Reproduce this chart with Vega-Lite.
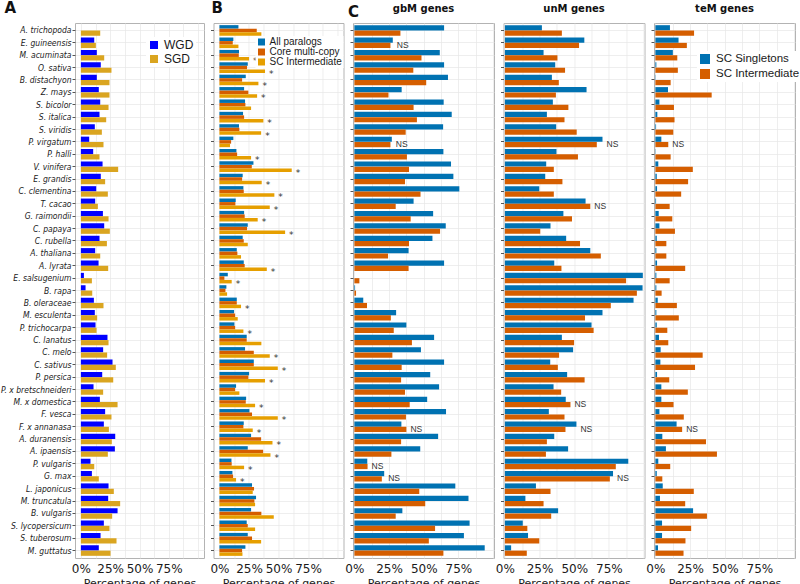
{
"$schema": "https://vega.github.io/schema/vega-lite/v6.json",
"padding": 0,
"autosize": {"type": "pad"},
"background": "white",
"config": {
  "view": {"stroke": "#B3B3B3", "strokeWidth": 1},
  "axis": {"gridColor": "#E6E6E6", "gridWidth": 0.7, "domain": false, "tickColor": "#555555", "labelFont": "DejaVu Sans", "titleFont": "DejaVu Sans", "labelColor": "#1A1A1A", "titleColor": "#1A1A1A"},
  "legend": {"labelFont": "Liberation Sans", "labelColor": "#1A1A1A"},
  "title": {"font": "DejaVu Sans", "fontWeight": "bold", "baseline": "alphabetic", "color": "#111111"}
},
"datasets": {
"a": [
{"s":"A. trichopoda","t":"WGD","v":0},{"s":"A. trichopoda","t":"SGD","v":16.5},
{"s":"E. guineensis","t":"WGD","v":11.4},{"s":"E. guineensis","t":"SGD","v":12.8},
{"s":"M. acuminata","t":"WGD","v":13.6},{"s":"M. acuminata","t":"SGD","v":19.9},
{"s":"O. sativa","t":"WGD","v":17.0},{"s":"O. sativa","t":"SGD","v":26.1},
{"s":"B. distachyon","t":"WGD","v":13.6},{"s":"B. distachyon","t":"SGD","v":24.4},
{"s":"Z. mays","t":"WGD","v":15.3},{"s":"Z. mays","t":"SGD","v":24.4},
{"s":"S. bicolor","t":"WGD","v":16.5},{"s":"S. bicolor","t":"SGD","v":23.6},
{"s":"S. italica","t":"WGD","v":15.9},{"s":"S. italica","t":"SGD","v":21.6},
{"s":"S. viridis","t":"WGD","v":11.9},{"s":"S. viridis","t":"SGD","v":17.9},
{"s":"P. virgatum","t":"WGD","v":7.1},{"s":"P. virgatum","t":"SGD","v":19.3},
{"s":"P. halli","t":"WGD","v":10.5},{"s":"P. halli","t":"SGD","v":15.9},
{"s":"V. vinifera","t":"WGD","v":18.5},{"s":"V. vinifera","t":"SGD","v":31.8},
{"s":"E. grandis","t":"WGD","v":17.0},{"s":"E. grandis","t":"SGD","v":20.7},
{"s":"C. clementina","t":"WGD","v":13.1},{"s":"C. clementina","t":"SGD","v":23.0},
{"s":"T. cacao","t":"WGD","v":12.2},{"s":"T. cacao","t":"SGD","v":14.5},
{"s":"G. raimondii","t":"WGD","v":18.8},{"s":"G. raimondii","t":"SGD","v":23.6},
{"s":"C. papaya","t":"WGD","v":19.9},{"s":"C. papaya","t":"SGD","v":24.7},
{"s":"C. rubella","t":"WGD","v":15.9},{"s":"C. rubella","t":"SGD","v":22.2},
{"s":"A. thaliana","t":"WGD","v":12.2},{"s":"A. thaliana","t":"SGD","v":16.5},
{"s":"A. lyrata","t":"WGD","v":15.1},{"s":"A. lyrata","t":"SGD","v":23.3},
{"s":"E. salsugenium","t":"WGD","v":2.6},{"s":"E. salsugenium","t":"SGD","v":9.4},
{"s":"B. rapa","t":"WGD","v":4.0},{"s":"B. rapa","t":"SGD","v":9.7},
{"s":"B. oleraceae","t":"WGD","v":11.1},{"s":"B. oleraceae","t":"SGD","v":19.3},
{"s":"M. esculenta","t":"WGD","v":11.9},{"s":"M. esculenta","t":"SGD","v":13.9},
{"s":"P. trichocarpa","t":"WGD","v":12.5},{"s":"P. trichocarpa","t":"SGD","v":13.4},
{"s":"C. lanatus","t":"WGD","v":22.7},{"s":"C. lanatus","t":"SGD","v":23.6},
{"s":"C. melo","t":"WGD","v":19.0},{"s":"C. melo","t":"SGD","v":22.4},
{"s":"C. sativus","t":"WGD","v":27.0},{"s":"C. sativus","t":"SGD","v":29.8},
{"s":"P. persica","t":"WGD","v":18.2},{"s":"P. persica","t":"SGD","v":27.6},
{"s":"P. x bretschneideri","t":"WGD","v":10.8},{"s":"P. x bretschneideri","t":"SGD","v":19.0},
{"s":"M. x domestica","t":"WGD","v":16.2},{"s":"M. x domestica","t":"SGD","v":31.3},
{"s":"F. vesca","t":"WGD","v":20.7},{"s":"F. vesca","t":"SGD","v":26.1},
{"s":"F. x annanasa","t":"WGD","v":19.6},{"s":"F. x annanasa","t":"SGD","v":23.9},
{"s":"A. duranensis","t":"WGD","v":29.3},{"s":"A. duranensis","t":"SGD","v":26.4},
{"s":"A. ipaensis","t":"WGD","v":29.0},{"s":"A. ipaensis","t":"SGD","v":23.0},
{"s":"P. vulgaris","t":"WGD","v":8.2},{"s":"P. vulgaris","t":"SGD","v":11.4},
{"s":"G. max","t":"WGD","v":9.4},{"s":"G. max","t":"SGD","v":15.3},
{"s":"L. japonicus","t":"WGD","v":23.6},{"s":"L. japonicus","t":"SGD","v":28.1},
{"s":"M. truncatula","t":"WGD","v":23.3},{"s":"M. truncatula","t":"SGD","v":33.5},
{"s":"B. vulgaris","t":"WGD","v":31.3},{"s":"B. vulgaris","t":"SGD","v":26.7},
{"s":"S. lycopersicum","t":"WGD","v":19.6},{"s":"S. lycopersicum","t":"SGD","v":24.4},
{"s":"S. tuberosum","t":"WGD","v":16.8},{"s":"S. tuberosum","t":"SGD","v":30.4},
{"s":"M. guttatus","t":"WGD","v":15.3},{"s":"M. guttatus","t":"SGD","v":25.3}
],
"b": [
{"s":"A. trichopoda","t":"All paralogs","v":16.1,"n":""},{"s":"A. trichopoda","t":"Core multi-copy","v":31.6,"n":""},{"s":"A. trichopoda","t":"SC Intermediate","v":35.5,"n":""},
{"s":"E. guineensis","t":"All paralogs","v":11.8,"n":""},{"s":"E. guineensis","t":"Core multi-copy","v":11.3,"n":""},{"s":"E. guineensis","t":"SC Intermediate","v":16.1,"n":""},
{"s":"M. acuminata","t":"All paralogs","v":16.6,"n":""},{"s":"M. acuminata","t":"Core multi-copy","v":16.4,"n":""},{"s":"M. acuminata","t":"SC Intermediate","v":25.1,"n":"*"},
{"s":"O. sativa","t":"All paralogs","v":24.0,"n":""},{"s":"O. sativa","t":"Core multi-copy","v":23.4,"n":""},{"s":"O. sativa","t":"SC Intermediate","v":38.6,"n":"*"},
{"s":"B. distachyon","t":"All paralogs","v":22.3,"n":""},{"s":"B. distachyon","t":"Core multi-copy","v":19.2,"n":""},{"s":"B. distachyon","t":"SC Intermediate","v":33.0,"n":"*"},
{"s":"Z. mays","t":"All paralogs","v":20.9,"n":""},{"s":"Z. mays","t":"Core multi-copy","v":24.5,"n":""},{"s":"Z. mays","t":"SC Intermediate","v":31.9,"n":"*"},
{"s":"S. bicolor","t":"All paralogs","v":21.7,"n":""},{"s":"S. bicolor","t":"Core multi-copy","v":22.0,"n":""},{"s":"S. bicolor","t":"SC Intermediate","v":26.8,"n":""},
{"s":"S. italica","t":"All paralogs","v":20.0,"n":""},{"s":"S. italica","t":"Core multi-copy","v":20.9,"n":""},{"s":"S. italica","t":"SC Intermediate","v":37.2,"n":"*"},
{"s":"S. viridis","t":"All paralogs","v":16.6,"n":""},{"s":"S. viridis","t":"Core multi-copy","v":16.9,"n":""},{"s":"S. viridis","t":"SC Intermediate","v":35.3,"n":"*"},
{"s":"P. virgatum","t":"All paralogs","v":11.8,"n":""},{"s":"P. virgatum","t":"Core multi-copy","v":9.9,"n":""},{"s":"P. virgatum","t":"SC Intermediate","v":9.0,"n":""},
{"s":"P. halli","t":"All paralogs","v":14.4,"n":""},{"s":"P. halli","t":"Core multi-copy","v":15.0,"n":""},{"s":"P. halli","t":"SC Intermediate","v":26.8,"n":"*"},
{"s":"V. vinifera","t":"All paralogs","v":28.8,"n":""},{"s":"V. vinifera","t":"Core multi-copy","v":27.4,"n":""},{"s":"V. vinifera","t":"SC Intermediate","v":61.2,"n":"*"},
{"s":"E. grandis","t":"All paralogs","v":19.7,"n":""},{"s":"E. grandis","t":"Core multi-copy","v":19.2,"n":""},{"s":"E. grandis","t":"SC Intermediate","v":35.8,"n":"*"},
{"s":"C. clementina","t":"All paralogs","v":20.3,"n":""},{"s":"C. clementina","t":"Core multi-copy","v":20.6,"n":""},{"s":"C. clementina","t":"SC Intermediate","v":46.5,"n":"*"},
{"s":"T. cacao","t":"All paralogs","v":13.8,"n":""},{"s":"T. cacao","t":"Core multi-copy","v":13.5,"n":""},{"s":"T. cacao","t":"SC Intermediate","v":42.6,"n":"*"},
{"s":"G. raimondii","t":"All paralogs","v":20.9,"n":""},{"s":"G. raimondii","t":"Core multi-copy","v":21.4,"n":""},{"s":"G. raimondii","t":"SC Intermediate","v":32.4,"n":"*"},
{"s":"C. papaya","t":"All paralogs","v":24.0,"n":""},{"s":"C. papaya","t":"Core multi-copy","v":23.4,"n":""},{"s":"C. papaya","t":"SC Intermediate","v":55.6,"n":"*"},
{"s":"C. rubella","t":"All paralogs","v":19.7,"n":""},{"s":"C. rubella","t":"Core multi-copy","v":20.6,"n":""},{"s":"C. rubella","t":"SC Intermediate","v":24.0,"n":""},
{"s":"A. thaliana","t":"All paralogs","v":14.7,"n":""},{"s":"A. thaliana","t":"Core multi-copy","v":15.2,"n":""},{"s":"A. thaliana","t":"SC Intermediate","v":18.3,"n":""},
{"s":"A. lyrata","t":"All paralogs","v":20.6,"n":""},{"s":"A. lyrata","t":"Core multi-copy","v":21.4,"n":""},{"s":"A. lyrata","t":"SC Intermediate","v":40.1,"n":"*"},
{"s":"E. salsugenium","t":"All paralogs","v":7.1,"n":""},{"s":"E. salsugenium","t":"Core multi-copy","v":4.2,"n":""},{"s":"E. salsugenium","t":"SC Intermediate","v":10.4,"n":"*"},
{"s":"B. rapa","t":"All paralogs","v":5.9,"n":""},{"s":"B. rapa","t":"Core multi-copy","v":5.1,"n":""},{"s":"B. rapa","t":"SC Intermediate","v":6.5,"n":""},
{"s":"B. oleraceae","t":"All paralogs","v":14.7,"n":""},{"s":"B. oleraceae","t":"Core multi-copy","v":14.7,"n":""},{"s":"B. oleraceae","t":"SC Intermediate","v":18.3,"n":"*"},
{"s":"M. esculenta","t":"All paralogs","v":12.4,"n":""},{"s":"M. esculenta","t":"Core multi-copy","v":13.3,"n":""},{"s":"M. esculenta","t":"SC Intermediate","v":15.5,"n":""},
{"s":"P. trichocarpa","t":"All paralogs","v":12.7,"n":""},{"s":"P. trichocarpa","t":"Core multi-copy","v":13.3,"n":""},{"s":"P. trichocarpa","t":"SC Intermediate","v":20.3,"n":"*"},
{"s":"C. lanatus","t":"All paralogs","v":23.1,"n":""},{"s":"C. lanatus","t":"Core multi-copy","v":23.1,"n":""},{"s":"C. lanatus","t":"SC Intermediate","v":35.5,"n":""},
{"s":"C. melo","t":"All paralogs","v":21.7,"n":""},{"s":"C. melo","t":"Core multi-copy","v":29.1,"n":""},{"s":"C. melo","t":"SC Intermediate","v":42.6,"n":"*"},
{"s":"C. sativus","t":"All paralogs","v":29.1,"n":""},{"s":"C. sativus","t":"Core multi-copy","v":29.1,"n":""},{"s":"C. sativus","t":"SC Intermediate","v":49.4,"n":"*"},
{"s":"P. persica","t":"All paralogs","v":25.1,"n":""},{"s":"P. persica","t":"Core multi-copy","v":24.5,"n":""},{"s":"P. persica","t":"SC Intermediate","v":38.6,"n":"*"},
{"s":"P. x bretschneideri","t":"All paralogs","v":14.1,"n":""},{"s":"P. x bretschneideri","t":"Core multi-copy","v":13.3,"n":""},{"s":"P. x bretschneideri","t":"SC Intermediate","v":16.9,"n":""},
{"s":"M. x domestica","t":"All paralogs","v":22.6,"n":""},{"s":"M. x domestica","t":"Core multi-copy","v":22.3,"n":""},{"s":"M. x domestica","t":"SC Intermediate","v":30.2,"n":"*"},
{"s":"F. vesca","t":"All paralogs","v":25.4,"n":""},{"s":"F. vesca","t":"Core multi-copy","v":27.6,"n":""},{"s":"F. vesca","t":"SC Intermediate","v":49.4,"n":"*"},
{"s":"F. x annanasa","t":"All paralogs","v":20.6,"n":""},{"s":"F. x annanasa","t":"Core multi-copy","v":20.3,"n":""},{"s":"F. x annanasa","t":"SC Intermediate","v":28.2,"n":"*"},
{"s":"A. duranensis","t":"All paralogs","v":26.8,"n":""},{"s":"A. duranensis","t":"Core multi-copy","v":35.3,"n":""},{"s":"A. duranensis","t":"SC Intermediate","v":44.9,"n":"*"},
{"s":"A. ipaensis","t":"All paralogs","v":24.0,"n":""},{"s":"A. ipaensis","t":"Core multi-copy","v":37.0,"n":""},{"s":"A. ipaensis","t":"SC Intermediate","v":43.2,"n":"*"},
{"s":"P. vulgaris","t":"All paralogs","v":10.2,"n":""},{"s":"P. vulgaris","t":"Core multi-copy","v":10.4,"n":""},{"s":"P. vulgaris","t":"SC Intermediate","v":20.9,"n":"*"},
{"s":"G. max","t":"All paralogs","v":11.0,"n":""},{"s":"G. max","t":"Core multi-copy","v":11.6,"n":""},{"s":"G. max","t":"SC Intermediate","v":14.1,"n":"*"},
{"s":"L. japonicus","t":"All paralogs","v":27.6,"n":""},{"s":"L. japonicus","t":"Core multi-copy","v":29.3,"n":""},{"s":"L. japonicus","t":"SC Intermediate","v":28.2,"n":""},
{"s":"M. truncatula","t":"All paralogs","v":31.0,"n":""},{"s":"M. truncatula","t":"Core multi-copy","v":29.6,"n":""},{"s":"M. truncatula","t":"SC Intermediate","v":30.2,"n":""},
{"s":"B. vulgaris","t":"All paralogs","v":26.8,"n":""},{"s":"B. vulgaris","t":"Core multi-copy","v":35.5,"n":""},{"s":"B. vulgaris","t":"SC Intermediate","v":46.0,"n":""},
{"s":"S. lycopersicum","t":"All paralogs","v":23.1,"n":""},{"s":"S. lycopersicum","t":"Core multi-copy","v":24.0,"n":""},{"s":"S. lycopersicum","t":"SC Intermediate","v":30.2,"n":""},
{"s":"S. tuberosum","t":"All paralogs","v":24.0,"n":""},{"s":"S. tuberosum","t":"Core multi-copy","v":27.6,"n":""},{"s":"S. tuberosum","t":"SC Intermediate","v":35.3,"n":""},
{"s":"M. guttatus","t":"All paralogs","v":22.0,"n":""},{"s":"M. guttatus","t":"Core multi-copy","v":19.2,"n":""},{"s":"M. guttatus","t":"SC Intermediate","v":19.5,"n":""}
],
"c": [
{"p":"gbM","s":"A. trichopoda","t":"SC Singletons","v":64.7},{"p":"gbM","s":"A. trichopoda","t":"SC Intermediate","v":33.2},
{"p":"gbM","s":"E. guineensis","t":"SC Singletons","v":27.7},{"p":"gbM","s":"E. guineensis","t":"SC Intermediate","v":26.0},
{"p":"gbM","s":"M. acuminata","t":"SC Singletons","v":61.6},{"p":"gbM","s":"M. acuminata","t":"SC Intermediate","v":48.4},
{"p":"gbM","s":"O. sativa","t":"SC Singletons","v":64.7},{"p":"gbM","s":"O. sativa","t":"SC Intermediate","v":42.5},
{"p":"gbM","s":"B. distachyon","t":"SC Singletons","v":67.5},{"p":"gbM","s":"B. distachyon","t":"SC Intermediate","v":51.8},
{"p":"gbM","s":"Z. mays","t":"SC Singletons","v":34.1},{"p":"gbM","s":"Z. mays","t":"SC Intermediate","v":24.6},
{"p":"gbM","s":"S. bicolor","t":"SC Singletons","v":64.4},{"p":"gbM","s":"S. bicolor","t":"SC Intermediate","v":42.7},
{"p":"gbM","s":"S. italica","t":"SC Singletons","v":70.2},{"p":"gbM","s":"S. italica","t":"SC Intermediate","v":45.1},
{"p":"gbM","s":"S. viridis","t":"SC Singletons","v":64.0},{"p":"gbM","s":"S. viridis","t":"SC Intermediate","v":37.0},
{"p":"gbM","s":"P. virgatum","t":"SC Singletons","v":27.0},{"p":"gbM","s":"P. virgatum","t":"SC Intermediate","v":26.0},
{"p":"gbM","s":"P. halli","t":"SC Singletons","v":64.2},{"p":"gbM","s":"P. halli","t":"SC Intermediate","v":37.9},
{"p":"gbM","s":"V. vinifera","t":"SC Singletons","v":69.7},{"p":"gbM","s":"V. vinifera","t":"SC Intermediate","v":39.4},
{"p":"gbM","s":"E. grandis","t":"SC Singletons","v":71.4},{"p":"gbM","s":"E. grandis","t":"SC Intermediate","v":36.5},
{"p":"gbM","s":"C. clementina","t":"SC Singletons","v":75.7},{"p":"gbM","s":"C. clementina","t":"SC Intermediate","v":47.7},
{"p":"gbM","s":"T. cacao","t":"SC Singletons","v":42.7},{"p":"gbM","s":"T. cacao","t":"SC Intermediate","v":29.8},
{"p":"gbM","s":"G. raimondii","t":"SC Singletons","v":56.8},{"p":"gbM","s":"G. raimondii","t":"SC Intermediate","v":40.6},
{"p":"gbM","s":"C. papaya","t":"SC Singletons","v":65.9},{"p":"gbM","s":"C. papaya","t":"SC Intermediate","v":61.8},
{"p":"gbM","s":"C. rubella","t":"SC Singletons","v":56.3},{"p":"gbM","s":"C. rubella","t":"SC Intermediate","v":39.4},
{"p":"gbM","s":"A. thaliana","t":"SC Singletons","v":39.1},{"p":"gbM","s":"A. thaliana","t":"SC Intermediate","v":24.3},
{"p":"gbM","s":"A. lyrata","t":"SC Singletons","v":64.7},{"p":"gbM","s":"A. lyrata","t":"SC Intermediate","v":39.1},
{"p":"gbM","s":"E. salsugenium","t":"SC Singletons","v":0},{"p":"gbM","s":"E. salsugenium","t":"SC Intermediate","v":3.6},
{"p":"gbM","s":"B. rapa","t":"SC Singletons","v":0.5},{"p":"gbM","s":"B. rapa","t":"SC Intermediate","v":1.2},
{"p":"gbM","s":"B. oleraceae","t":"SC Singletons","v":6.4},{"p":"gbM","s":"B. oleraceae","t":"SC Intermediate","v":9.1},
{"p":"gbM","s":"M. esculenta","t":"SC Singletons","v":30.1},{"p":"gbM","s":"M. esculenta","t":"SC Intermediate","v":26.3},
{"p":"gbM","s":"P. trichocarpa","t":"SC Singletons","v":37.5},{"p":"gbM","s":"P. trichocarpa","t":"SC Intermediate","v":28.4},
{"p":"gbM","s":"C. lanatus","t":"SC Singletons","v":57.5},{"p":"gbM","s":"C. lanatus","t":"SC Intermediate","v":41.5},
{"p":"gbM","s":"C. melo","t":"SC Singletons","v":48.0},{"p":"gbM","s":"C. melo","t":"SC Intermediate","v":27.4},
{"p":"gbM","s":"C. sativus","t":"SC Singletons","v":64.7},{"p":"gbM","s":"C. sativus","t":"SC Intermediate","v":34.1},
{"p":"gbM","s":"P. persica","t":"SC Singletons","v":54.7},{"p":"gbM","s":"P. persica","t":"SC Intermediate","v":33.7},
{"p":"gbM","s":"P. x bretschneideri","t":"SC Singletons","v":61.1},{"p":"gbM","s":"P. x bretschneideri","t":"SC Intermediate","v":36.5},
{"p":"gbM","s":"M. x domestica","t":"SC Singletons","v":52.5},{"p":"gbM","s":"M. x domestica","t":"SC Intermediate","v":39.9},
{"p":"gbM","s":"F. vesca","t":"SC Singletons","v":66.1},{"p":"gbM","s":"F. vesca","t":"SC Intermediate","v":37.2},
{"p":"gbM","s":"F. x annanasa","t":"SC Singletons","v":33.9},{"p":"gbM","s":"F. x annanasa","t":"SC Intermediate","v":37.5},
{"p":"gbM","s":"A. duranensis","t":"SC Singletons","v":60.4},{"p":"gbM","s":"A. duranensis","t":"SC Intermediate","v":33.7},
{"p":"gbM","s":"A. ipaensis","t":"SC Singletons","v":47.5},{"p":"gbM","s":"A. ipaensis","t":"SC Intermediate","v":26.7},
{"p":"gbM","s":"P. vulgaris","t":"SC Singletons","v":9.3},{"p":"gbM","s":"P. vulgaris","t":"SC Intermediate","v":9.5},
{"p":"gbM","s":"G. max","t":"SC Singletons","v":21.5},{"p":"gbM","s":"G. max","t":"SC Intermediate","v":19.8},
{"p":"gbM","s":"L. japonicus","t":"SC Singletons","v":72.8},{"p":"gbM","s":"L. japonicus","t":"SC Intermediate","v":46.8},
{"p":"gbM","s":"M. truncatula","t":"SC Singletons","v":82.3},{"p":"gbM","s":"M. truncatula","t":"SC Intermediate","v":51.1},
{"p":"gbM","s":"B. vulgaris","t":"SC Singletons","v":34.6},{"p":"gbM","s":"B. vulgaris","t":"SC Intermediate","v":29.8},
{"p":"gbM","s":"S. lycopersicum","t":"SC Singletons","v":83.1},{"p":"gbM","s":"S. lycopersicum","t":"SC Intermediate","v":58.2},
{"p":"gbM","s":"S. tuberosum","t":"SC Singletons","v":79.0},{"p":"gbM","s":"S. tuberosum","t":"SC Intermediate","v":53.7},
{"p":"gbM","s":"M. guttatus","t":"SC Singletons","v":94.0},{"p":"gbM","s":"M. guttatus","t":"SC Intermediate","v":64.2},
{"p":"unM","s":"A. trichopoda","t":"SC Singletons","v":26.7},{"p":"unM","s":"A. trichopoda","t":"SC Intermediate","v":41.1},
{"p":"unM","s":"E. guineensis","t":"SC Singletons","v":57.3},{"p":"unM","s":"E. guineensis","t":"SC Intermediate","v":53.5},
{"p":"unM","s":"M. acuminata","t":"SC Singletons","v":27.9},{"p":"unM","s":"M. acuminata","t":"SC Intermediate","v":37.9},
{"p":"unM","s":"O. sativa","t":"SC Singletons","v":36.3},{"p":"unM","s":"O. sativa","t":"SC Intermediate","v":43.4},
{"p":"unM","s":"B. distachyon","t":"SC Singletons","v":33.9},{"p":"unM","s":"B. distachyon","t":"SC Intermediate","v":38.9},
{"p":"unM","s":"Z. mays","t":"SC Singletons","v":58.9},{"p":"unM","s":"Z. mays","t":"SC Intermediate","v":36.8},
{"p":"unM","s":"S. bicolor","t":"SC Singletons","v":34.6},{"p":"unM","s":"S. bicolor","t":"SC Intermediate","v":45.8},
{"p":"unM","s":"S. italica","t":"SC Singletons","v":30.3},{"p":"unM","s":"S. italica","t":"SC Intermediate","v":43.0},
{"p":"unM","s":"S. viridis","t":"SC Singletons","v":37.0},{"p":"unM","s":"S. viridis","t":"SC Intermediate","v":51.8},
{"p":"unM","s":"P. virgatum","t":"SC Singletons","v":70.4},{"p":"unM","s":"P. virgatum","t":"SC Intermediate","v":66.3},
{"p":"unM","s":"P. halli","t":"SC Singletons","v":37.2},{"p":"unM","s":"P. halli","t":"SC Intermediate","v":52.7},
{"p":"unM","s":"V. vinifera","t":"SC Singletons","v":29.8},{"p":"unM","s":"V. vinifera","t":"SC Intermediate","v":35.3},
{"p":"unM","s":"E. grandis","t":"SC Singletons","v":29.1},{"p":"unM","s":"E. grandis","t":"SC Intermediate","v":41.5},
{"p":"unM","s":"C. clementina","t":"SC Singletons","v":24.8},{"p":"unM","s":"C. clementina","t":"SC Intermediate","v":35.3},
{"p":"unM","s":"T. cacao","t":"SC Singletons","v":58.2},{"p":"unM","s":"T. cacao","t":"SC Intermediate","v":61.6},
{"p":"unM","s":"G. raimondii","t":"SC Singletons","v":42.2},{"p":"unM","s":"G. raimondii","t":"SC Intermediate","v":48.4},
{"p":"unM","s":"C. papaya","t":"SC Singletons","v":32.9},{"p":"unM","s":"C. papaya","t":"SC Intermediate","v":25.5},
{"p":"unM","s":"C. rubella","t":"SC Singletons","v":44.2},{"p":"unM","s":"C. rubella","t":"SC Intermediate","v":54.2},
{"p":"unM","s":"A. thaliana","t":"SC Singletons","v":61.6},{"p":"unM","s":"A. thaliana","t":"SC Intermediate","v":69.2},
{"p":"unM","s":"A. lyrata","t":"SC Singletons","v":35.6},{"p":"unM","s":"A. lyrata","t":"SC Intermediate","v":40.8},
{"p":"unM","s":"E. salsugenium","t":"SC Singletons","v":99.5},{"p":"unM","s":"E. salsugenium","t":"SC Intermediate","v":87.4},
{"p":"unM","s":"B. rapa","t":"SC Singletons","v":99.3},{"p":"unM","s":"B. rapa","t":"SC Intermediate","v":95.2},
{"p":"unM","s":"B. oleraceae","t":"SC Singletons","v":92.8},{"p":"unM","s":"B. oleraceae","t":"SC Intermediate","v":76.4},
{"p":"unM","s":"M. esculenta","t":"SC Singletons","v":70.4},{"p":"unM","s":"M. esculenta","t":"SC Intermediate","v":57.8},
{"p":"unM","s":"P. trichocarpa","t":"SC Singletons","v":62.5},{"p":"unM","s":"P. trichocarpa","t":"SC Intermediate","v":64.0},
{"p":"unM","s":"C. lanatus","t":"SC Singletons","v":41.1},{"p":"unM","s":"C. lanatus","t":"SC Intermediate","v":49.9},
{"p":"unM","s":"C. melo","t":"SC Singletons","v":49.2},{"p":"unM","s":"C. melo","t":"SC Intermediate","v":39.1},
{"p":"unM","s":"C. sativus","t":"SC Singletons","v":32.7},{"p":"unM","s":"C. sativus","t":"SC Intermediate","v":38.2},
{"p":"unM","s":"P. persica","t":"SC Singletons","v":44.9},{"p":"unM","s":"P. persica","t":"SC Intermediate","v":57.5},
{"p":"unM","s":"P. x bretschneideri","t":"SC Singletons","v":35.1},{"p":"unM","s":"P. x bretschneideri","t":"SC Intermediate","v":40.6},
{"p":"unM","s":"M. x domestica","t":"SC Singletons","v":43.9},{"p":"unM","s":"M. x domestica","t":"SC Intermediate","v":47.3},
{"p":"unM","s":"F. vesca","t":"SC Singletons","v":31.7},{"p":"unM","s":"F. vesca","t":"SC Intermediate","v":43.0},
{"p":"unM","s":"F. x annanasa","t":"SC Singletons","v":51.6},{"p":"unM","s":"F. x annanasa","t":"SC Intermediate","v":43.7},
{"p":"unM","s":"A. duranensis","t":"SC Singletons","v":35.6},{"p":"unM","s":"A. duranensis","t":"SC Intermediate","v":30.3},
{"p":"unM","s":"A. ipaensis","t":"SC Singletons","v":45.6},{"p":"unM","s":"A. ipaensis","t":"SC Intermediate","v":29.6},
{"p":"unM","s":"P. vulgaris","t":"SC Singletons","v":89.0},{"p":"unM","s":"P. vulgaris","t":"SC Intermediate","v":80.0},
{"p":"unM","s":"G. max","t":"SC Singletons","v":78.0},{"p":"unM","s":"G. max","t":"SC Intermediate","v":75.7},
{"p":"unM","s":"L. japonicus","t":"SC Singletons","v":22.4},{"p":"unM","s":"L. japonicus","t":"SC Intermediate","v":32.9},
{"p":"unM","s":"M. truncatula","t":"SC Singletons","v":14.8},{"p":"unM","s":"M. truncatula","t":"SC Intermediate","v":27.9},
{"p":"unM","s":"B. vulgaris","t":"SC Singletons","v":38.4},{"p":"unM","s":"B. vulgaris","t":"SC Intermediate","v":33.4},
{"p":"unM","s":"S. lycopersicum","t":"SC Singletons","v":12.9},{"p":"unM","s":"S. lycopersicum","t":"SC Intermediate","v":16.2},
{"p":"unM","s":"S. tuberosum","t":"SC Singletons","v":16.7},{"p":"unM","s":"S. tuberosum","t":"SC Intermediate","v":24.8},
{"p":"unM","s":"M. guttatus","t":"SC Singletons","v":4.5},{"p":"unM","s":"M. guttatus","t":"SC Intermediate","v":15.8},
{"p":"teM","s":"A. trichopoda","t":"SC Singletons","v":10.5},{"p":"teM","s":"A. trichopoda","t":"SC Intermediate","v":27.9},
{"p":"teM","s":"E. guineensis","t":"SC Singletons","v":16.7},{"p":"teM","s":"E. guineensis","t":"SC Intermediate","v":22.7},
{"p":"teM","s":"M. acuminata","t":"SC Singletons","v":12.6},{"p":"teM","s":"M. acuminata","t":"SC Intermediate","v":15.8},
{"p":"teM","s":"O. sativa","t":"SC Singletons","v":0.7},{"p":"teM","s":"O. sativa","t":"SC Intermediate","v":16.2},
{"p":"teM","s":"B. distachyon","t":"SC Singletons","v":0.2},{"p":"teM","s":"B. distachyon","t":"SC Intermediate","v":11.0},
{"p":"teM","s":"Z. mays","t":"SC Singletons","v":9.1},{"p":"teM","s":"Z. mays","t":"SC Intermediate","v":40.6},
{"p":"teM","s":"S. bicolor","t":"SC Singletons","v":2.9},{"p":"teM","s":"S. bicolor","t":"SC Intermediate","v":13.4},
{"p":"teM","s":"S. italica","t":"SC Singletons","v":1.4},{"p":"teM","s":"S. italica","t":"SC Intermediate","v":13.8},
{"p":"teM","s":"S. viridis","t":"SC Singletons","v":0.5},{"p":"teM","s":"S. viridis","t":"SC Intermediate","v":12.9},
{"p":"teM","s":"P. virgatum","t":"SC Singletons","v":4.3},{"p":"teM","s":"P. virgatum","t":"SC Intermediate","v":9.3},
{"p":"teM","s":"P. halli","t":"SC Singletons","v":0.2},{"p":"teM","s":"P. halli","t":"SC Intermediate","v":11.0},
{"p":"teM","s":"V. vinifera","t":"SC Singletons","v":2.1},{"p":"teM","s":"V. vinifera","t":"SC Intermediate","v":27.0},
{"p":"teM","s":"E. grandis","t":"SC Singletons","v":1.0},{"p":"teM","s":"E. grandis","t":"SC Intermediate","v":23.6},
{"p":"teM","s":"C. clementina","t":"SC Singletons","v":1.2},{"p":"teM","s":"C. clementina","t":"SC Intermediate","v":18.6},
{"p":"teM","s":"T. cacao","t":"SC Singletons","v":0.5},{"p":"teM","s":"T. cacao","t":"SC Intermediate","v":10.3},
{"p":"teM","s":"G. raimondii","t":"SC Singletons","v":2.4},{"p":"teM","s":"G. raimondii","t":"SC Intermediate","v":12.2},
{"p":"teM","s":"C. papaya","t":"SC Singletons","v":2.9},{"p":"teM","s":"C. papaya","t":"SC Intermediate","v":14.1},
{"p":"teM","s":"C. rubella","t":"SC Singletons","v":1.0},{"p":"teM","s":"C. rubella","t":"SC Intermediate","v":7.9},
{"p":"teM","s":"A. thaliana","t":"SC Singletons","v":0.7},{"p":"teM","s":"A. thaliana","t":"SC Intermediate","v":7.9},
{"p":"teM","s":"A. lyrata","t":"SC Singletons","v":1.2},{"p":"teM","s":"A. lyrata","t":"SC Intermediate","v":21.5},
{"p":"teM","s":"E. salsugenium","t":"SC Singletons","v":0.7},{"p":"teM","s":"E. salsugenium","t":"SC Intermediate","v":10.3},
{"p":"teM","s":"B. rapa","t":"SC Singletons","v":0.7},{"p":"teM","s":"B. rapa","t":"SC Intermediate","v":4.5},
{"p":"teM","s":"B. oleraceae","t":"SC Singletons","v":1.7},{"p":"teM","s":"B. oleraceae","t":"SC Intermediate","v":15.5},
{"p":"teM","s":"M. esculenta","t":"SC Singletons","v":0.7},{"p":"teM","s":"M. esculenta","t":"SC Intermediate","v":16.9},
{"p":"teM","s":"P. trichocarpa","t":"SC Singletons","v":1.0},{"p":"teM","s":"P. trichocarpa","t":"SC Intermediate","v":8.6},
{"p":"teM","s":"C. lanatus","t":"SC Singletons","v":2.6},{"p":"teM","s":"C. lanatus","t":"SC Intermediate","v":9.3},
{"p":"teM","s":"C. melo","t":"SC Singletons","v":3.8},{"p":"teM","s":"C. melo","t":"SC Intermediate","v":34.1},
{"p":"teM","s":"C. sativus","t":"SC Singletons","v":3.6},{"p":"teM","s":"C. sativus","t":"SC Intermediate","v":28.6},
{"p":"teM","s":"P. persica","t":"SC Singletons","v":1.2},{"p":"teM","s":"P. persica","t":"SC Intermediate","v":10.0},
{"p":"teM","s":"P. x bretschneideri","t":"SC Singletons","v":4.3},{"p":"teM","s":"P. x bretschneideri","t":"SC Intermediate","v":23.4},
{"p":"teM","s":"M. x domestica","t":"SC Singletons","v":4.3},{"p":"teM","s":"M. x domestica","t":"SC Intermediate","v":13.1},
{"p":"teM","s":"F. vesca","t":"SC Singletons","v":2.9},{"p":"teM","s":"F. vesca","t":"SC Intermediate","v":20.5},
{"p":"teM","s":"F. x annanasa","t":"SC Singletons","v":15.3},{"p":"teM","s":"F. x annanasa","t":"SC Intermediate","v":19.3},
{"p":"teM","s":"A. duranensis","t":"SC Singletons","v":5.0},{"p":"teM","s":"A. duranensis","t":"SC Intermediate","v":36.5},
{"p":"teM","s":"A. ipaensis","t":"SC Singletons","v":7.6},{"p":"teM","s":"A. ipaensis","t":"SC Intermediate","v":44.4},
{"p":"teM","s":"P. vulgaris","t":"SC Singletons","v":2.1},{"p":"teM","s":"P. vulgaris","t":"SC Intermediate","v":10.7},
{"p":"teM","s":"G. max","t":"SC Singletons","v":1.0},{"p":"teM","s":"G. max","t":"SC Intermediate","v":5.0},
{"p":"teM","s":"L. japonicus","t":"SC Singletons","v":5.3},{"p":"teM","s":"L. japonicus","t":"SC Intermediate","v":27.7},
{"p":"teM","s":"M. truncatula","t":"SC Singletons","v":3.3},{"p":"teM","s":"M. truncatula","t":"SC Intermediate","v":21.5},
{"p":"teM","s":"B. vulgaris","t":"SC Singletons","v":27.2},{"p":"teM","s":"B. vulgaris","t":"SC Intermediate","v":37.2},
{"p":"teM","s":"S. lycopersicum","t":"SC Singletons","v":4.8},{"p":"teM","s":"S. lycopersicum","t":"SC Intermediate","v":25.8},
{"p":"teM","s":"S. tuberosum","t":"SC Singletons","v":4.8},{"p":"teM","s":"S. tuberosum","t":"SC Intermediate","v":21.7},
{"p":"teM","s":"M. guttatus","t":"SC Singletons","v":1.9},{"p":"teM","s":"M. guttatus","t":"SC Intermediate","v":20.3}
],
"ns": [
{"p":"gbM","s":"E. guineensis","v":27.7,"n":"NS"},
{"p":"gbM","s":"P. virgatum","v":27.0,"n":"NS"},
{"p":"gbM","s":"F. x annanasa","v":37.5,"n":"NS"},
{"p":"gbM","s":"P. vulgaris","v":9.5,"n":"NS"},
{"p":"gbM","s":"G. max","v":21.5,"n":"NS"},
{"p":"unM","s":"P. virgatum","v":70.4,"n":"NS"},
{"p":"unM","s":"T. cacao","v":61.6,"n":"NS"},
{"p":"unM","s":"M. x domestica","v":47.3,"n":"NS"},
{"p":"unM","s":"F. x annanasa","v":51.6,"n":"NS"},
{"p":"unM","s":"G. max","v":78.0,"n":"NS"},
{"p":"teM","s":"P. virgatum","v":9.3,"n":"NS"},
{"p":"teM","s":"F. x annanasa","v":19.3,"n":"NS"}
]
},
"bounds": "flush",
"spacing": 9.5,
"resolve": {"scale": {"color": "independent", "x": "independent", "y": "independent"}, "legend": {"color": "independent"}},
"hconcat": [
  {
    "width": 129, "height": 535,
    "title": {"text": "A", "anchor": "start", "frame": "bounds", "fontSize": 15, "offset": 7, "dx": 4},
    "data": {"name": "a"},
    "encoding": {
      "y": {"field": "s", "type": "nominal", "scale": {"domain": ["A. trichopoda","E. guineensis","M. acuminata","O. sativa","B. distachyon","Z. mays","S. bicolor","S. italica","S. viridis","P. virgatum","P. halli","V. vinifera","E. grandis","C. clementina","T. cacao","G. raimondii","C. papaya","C. rubella","A. thaliana","A. lyrata","E. salsugenium","B. rapa","B. oleraceae","M. esculenta","P. trichocarpa","C. lanatus","C. melo","C. sativus","P. persica","P. x bretschneideri","M. x domestica","F. vesca","F. x annanasa","A. duranensis","A. ipaensis","P. vulgaris","G. max","L. japonicus","M. truncatula","B. vulgaris","S. lycopersicum","S. tuberosum","M. guttatus"], "paddingInner": 0, "paddingOuter": 0.1},
        "axis": {"title": null, "labelFont": "DejaVu Sans Condensed, DejaVu Sans, sans-serif", "labelFontStyle": "italic", "labelFontSize": 8.5, "tickSize": 3, "labelPadding": 1, "grid": true, "tickBand": "center"}},
      "x": {"field": "v", "type": "quantitative", "scale": {"domain": [-5, 105], "nice": false},
        "axis": {"title": "Percentage of genes", "values": [0,12.5,25,37.5,50,62.5,75,87.5,100], "labelExpr": "datum.value % 25 === 0 && datum.value < 100 ? datum.value + '%' : ''", "labelOverlap": false, "labelFlush": false, "ticks": false, "labelFontSize": 12, "labelPadding": 5, "titleFontSize": 11, "titleFontWeight": "normal", "titlePadding": 3, "grid": true}},
      "x2": {"datum": 0},
      "color": {"field": "t", "type": "nominal", "scale": {"domain": ["WGD", "SGD"], "range": ["#0000FF", "#DAA520"]},
        "legend": {"title": null, "orient": "none", "legendX": 71, "legendY": 14, "symbolType": "square", "symbolSize": 64, "labelFontSize": 12, "labelOffset": 4, "rowPadding": 2, "padding": 2, "fillColor": "white"}}
    },
    "layer": [
      {"transform": [{"filter": "datum.t == 'WGD'"}], "mark": {"type": "bar", "height": 5.2, "yOffset": -2.65}},
      {"transform": [{"filter": "datum.t == 'SGD'"}], "mark": {"type": "bar", "height": 5.2, "yOffset": 2.65}}
    ]
  },
  {
    "width": 130, "height": 535,
    "title": {"text": "B", "anchor": "start", "frame": "group", "fontSize": 15, "offset": 7, "dx": -2},
    "data": {"name": "b"},
    "encoding": {
      "y": {"field": "s", "type": "nominal", "scale": {"domain": ["A. trichopoda","E. guineensis","M. acuminata","O. sativa","B. distachyon","Z. mays","S. bicolor","S. italica","S. viridis","P. virgatum","P. halli","V. vinifera","E. grandis","C. clementina","T. cacao","G. raimondii","C. papaya","C. rubella","A. thaliana","A. lyrata","E. salsugenium","B. rapa","B. oleraceae","M. esculenta","P. trichocarpa","C. lanatus","C. melo","C. sativus","P. persica","P. x bretschneideri","M. x domestica","F. vesca","F. x annanasa","A. duranensis","A. ipaensis","P. vulgaris","G. max","L. japonicus","M. truncatula","B. vulgaris","S. lycopersicum","S. tuberosum","M. guttatus"], "paddingInner": 0, "paddingOuter": 0.1},
        "axis": {"title": null, "labels": false, "tickSize": 3, "grid": true, "tickBand": "center"}},
      "x": {"field": "v", "type": "quantitative", "scale": {"domain": [-5, 105], "nice": false},
        "axis": {"title": "Percentage of genes", "values": [0,12.5,25,37.5,50,62.5,75,87.5,100], "labelExpr": "datum.value % 25 === 0 && datum.value < 100 ? datum.value + '%' : ''", "labelOverlap": false, "labelFlush": false, "ticks": false, "labelFontSize": 12, "labelPadding": 5, "titleFontSize": 11, "titleFontWeight": "normal", "titlePadding": 3, "grid": true}},
      "x2": {"datum": 0},
      "color": {"field": "t", "type": "nominal", "scale": {"domain": ["All paralogs", "Core multi-copy", "SC Intermediate"], "range": ["#0072B2", "#D55E00", "#E69F00"]},
        "legend": {"title": null, "orient": "none", "legendX": 42, "legendY": 13, "symbolType": "square", "symbolSize": 49, "labelFontSize": 10, "labelOffset": 3, "rowPadding": -1.5, "padding": 1, "fillColor": "white"}}
    },
    "layer": [
      {"transform": [{"filter": "datum.t == 'All paralogs'"}], "mark": {"type": "bar", "height": 3.5, "yOffset": -3.55}},
      {"transform": [{"filter": "datum.t == 'Core multi-copy'"}], "mark": {"type": "bar", "height": 3.5, "yOffset": 0}},
      {"transform": [{"filter": "datum.t == 'SC Intermediate'"}], "mark": {"type": "bar", "height": 3.5, "yOffset": 3.55}},
      {"transform": [{"filter": "datum.n == '*'"}],
       "mark": {"type": "text", "align": "left", "baseline": "middle", "dx": 4, "yOffset": 3.55, "dy": 2.5, "fontSize": 9, "font": "DejaVu Sans", "color": "#333333"},
       "encoding": {"text": {"field": "n"}, "color": {"value": "#333333"}, "x2": null}}
    ]
  },
  {
    "width": 141, "height": 535,
    "title": {"text": "gbM genes", "anchor": "middle", "frame": "group", "fontSize": 10, "offset": -10},
    "encoding": {
      "y": {"field": "s", "type": "nominal", "scale": {"domain": ["A. trichopoda","E. guineensis","M. acuminata","O. sativa","B. distachyon","Z. mays","S. bicolor","S. italica","S. viridis","P. virgatum","P. halli","V. vinifera","E. grandis","C. clementina","T. cacao","G. raimondii","C. papaya","C. rubella","A. thaliana","A. lyrata","E. salsugenium","B. rapa","B. oleraceae","M. esculenta","P. trichocarpa","C. lanatus","C. melo","C. sativus","P. persica","P. x bretschneideri","M. x domestica","F. vesca","F. x annanasa","A. duranensis","A. ipaensis","P. vulgaris","G. max","L. japonicus","M. truncatula","B. vulgaris","S. lycopersicum","S. tuberosum","M. guttatus"], "paddingInner": 0, "paddingOuter": 0.1},
        "axis": {"title": "C", "titleAngle": 0, "titleX": -5.5, "titleY": -7, "titleAlign": "left", "titleBaseline": "alphabetic", "titleFontSize": 15, "titleFontWeight": "bold", "titleColor": "#111111", "labels": false, "tickSize": 3, "grid": true, "tickBand": "center"}},
      "x": {"field": "v", "type": "quantitative", "scale": {"domain": [-1, 100.7], "nice": false},
        "axis": {"title": "Percentage of genes", "values": [0,12.5,25,37.5,50,62.5,75,87.5,100], "labelExpr": "datum.value % 25 === 0 && datum.value < 100 ? datum.value + '%' : ''", "labelOverlap": false, "labelFlush": false, "ticks": false, "labelFontSize": 12, "labelPadding": 5, "titleFontSize": 11, "titleFontWeight": "normal", "titlePadding": 3, "grid": true}}
    },
    "layer": [
      {"data": {"name": "c"}, "transform": [{"filter": "datum.p == 'gbM' && datum.t == 'SC Singletons'"}],
       "mark": {"type": "bar", "height": 5.2, "yOffset": -2.65},
       "encoding": {"x2": {"datum": 0}, "color": {"field": "t", "type": "nominal", "scale": {"domain": ["SC Singletons", "SC Intermediate"], "range": ["#0072B2", "#D55E00"]}, "legend": null}}},
      {"data": {"name": "c"}, "transform": [{"filter": "datum.p == 'gbM' && datum.t == 'SC Intermediate'"}],
       "mark": {"type": "bar", "height": 5.2, "yOffset": 2.65},
       "encoding": {"x2": {"datum": 0}, "color": {"field": "t", "type": "nominal", "scale": {"domain": ["SC Singletons", "SC Intermediate"], "range": ["#0072B2", "#D55E00"]}, "legend": null}}},
      {"data": {"name": "ns"}, "transform": [{"filter": "datum.p == 'gbM'"}],
       "mark": {"type": "text", "align": "left", "baseline": "middle", "dx": 4, "dy": 2, "fontSize": 8.5, "font": "Liberation Sans", "color": "#333333"},
       "encoding": {"text": {"field": "n"}}}
    ]
  },
  {
    "width": 141, "height": 535,
    "title": {"text": "unM genes", "anchor": "middle", "frame": "group", "fontSize": 10, "offset": 9},
    "encoding": {
      "y": {"field": "s", "type": "nominal", "scale": {"domain": ["A. trichopoda","E. guineensis","M. acuminata","O. sativa","B. distachyon","Z. mays","S. bicolor","S. italica","S. viridis","P. virgatum","P. halli","V. vinifera","E. grandis","C. clementina","T. cacao","G. raimondii","C. papaya","C. rubella","A. thaliana","A. lyrata","E. salsugenium","B. rapa","B. oleraceae","M. esculenta","P. trichocarpa","C. lanatus","C. melo","C. sativus","P. persica","P. x bretschneideri","M. x domestica","F. vesca","F. x annanasa","A. duranensis","A. ipaensis","P. vulgaris","G. max","L. japonicus","M. truncatula","B. vulgaris","S. lycopersicum","S. tuberosum","M. guttatus"], "paddingInner": 0, "paddingOuter": 0.1},
        "axis": {"title": null, "labels": false, "tickSize": 3, "grid": true, "tickBand": "center"}},
      "x": {"field": "v", "type": "quantitative", "scale": {"domain": [-1, 100.7], "nice": false},
        "axis": {"title": "Percentage of genes", "values": [0,12.5,25,37.5,50,62.5,75,87.5,100], "labelExpr": "datum.value % 25 === 0 && datum.value < 100 ? datum.value + '%' : ''", "labelOverlap": false, "labelFlush": false, "ticks": false, "labelFontSize": 12, "labelPadding": 5, "titleFontSize": 11, "titleFontWeight": "normal", "titlePadding": 3, "grid": true}}
    },
    "layer": [
      {"data": {"name": "c"}, "transform": [{"filter": "datum.p == 'unM' && datum.t == 'SC Singletons'"}],
       "mark": {"type": "bar", "height": 5.2, "yOffset": -2.65},
       "encoding": {"x2": {"datum": 0}, "color": {"field": "t", "type": "nominal", "scale": {"domain": ["SC Singletons", "SC Intermediate"], "range": ["#0072B2", "#D55E00"]}, "legend": null}}},
      {"data": {"name": "c"}, "transform": [{"filter": "datum.p == 'unM' && datum.t == 'SC Intermediate'"}],
       "mark": {"type": "bar", "height": 5.2, "yOffset": 2.65},
       "encoding": {"x2": {"datum": 0}, "color": {"field": "t", "type": "nominal", "scale": {"domain": ["SC Singletons", "SC Intermediate"], "range": ["#0072B2", "#D55E00"]}, "legend": null}}},
      {"data": {"name": "ns"}, "transform": [{"filter": "datum.p == 'unM'"}],
       "mark": {"type": "text", "align": "left", "baseline": "middle", "dx": 4, "dy": 2, "fontSize": 8.5, "font": "Liberation Sans", "color": "#333333"},
       "encoding": {"text": {"field": "n"}}}
    ]
  },
  {
    "width": 141, "height": 535,
    "title": {"text": "teM genes", "anchor": "middle", "frame": "group", "fontSize": 10, "offset": 9},
    "encoding": {
      "y": {"field": "s", "type": "nominal", "scale": {"domain": ["A. trichopoda","E. guineensis","M. acuminata","O. sativa","B. distachyon","Z. mays","S. bicolor","S. italica","S. viridis","P. virgatum","P. halli","V. vinifera","E. grandis","C. clementina","T. cacao","G. raimondii","C. papaya","C. rubella","A. thaliana","A. lyrata","E. salsugenium","B. rapa","B. oleraceae","M. esculenta","P. trichocarpa","C. lanatus","C. melo","C. sativus","P. persica","P. x bretschneideri","M. x domestica","F. vesca","F. x annanasa","A. duranensis","A. ipaensis","P. vulgaris","G. max","L. japonicus","M. truncatula","B. vulgaris","S. lycopersicum","S. tuberosum","M. guttatus"], "paddingInner": 0, "paddingOuter": 0.1},
        "axis": {"title": null, "labels": false, "tickSize": 3, "grid": true, "tickBand": "center"}},
      "x": {"field": "v", "type": "quantitative", "scale": {"domain": [-1, 100.7], "nice": false},
        "axis": {"title": "Percentage of genes", "values": [0,12.5,25,37.5,50,62.5,75,87.5,100], "labelExpr": "datum.value % 25 === 0 && datum.value < 100 ? datum.value + '%' : ''", "labelOverlap": false, "labelFlush": false, "ticks": false, "labelFontSize": 12, "labelPadding": 5, "titleFontSize": 11, "titleFontWeight": "normal", "titlePadding": 3, "grid": true}}
    },
    "layer": [
      {"data": {"name": "c"}, "transform": [{"filter": "datum.p == 'teM' && datum.t == 'SC Singletons'"}],
       "mark": {"type": "bar", "height": 5.2, "yOffset": -2.65},
       "encoding": {"x2": {"datum": 0}, "color": {"field": "t", "type": "nominal", "scale": {"domain": ["SC Singletons", "SC Intermediate"], "range": ["#0072B2", "#D55E00"]},
           "legend": {"title": null, "orient": "none", "legendX": 43, "legendY": 28, "symbolType": "square", "symbolSize": 100, "labelFontSize": 11.5, "labelOffset": 5, "rowPadding": 3, "padding": 2, "fillColor": "white"}}}},
      {"data": {"name": "c"}, "transform": [{"filter": "datum.p == 'teM' && datum.t == 'SC Intermediate'"}],
       "mark": {"type": "bar", "height": 5.2, "yOffset": 2.65},
       "encoding": {"x2": {"datum": 0}, "color": {"field": "t", "type": "nominal", "scale": {"domain": ["SC Singletons", "SC Intermediate"], "range": ["#0072B2", "#D55E00"]},
           "legend": {"title": null, "orient": "none", "legendX": 43, "legendY": 28, "symbolType": "square", "symbolSize": 100, "labelFontSize": 11.5, "labelOffset": 5, "rowPadding": 3, "padding": 2, "fillColor": "white"}}}},
      {"data": {"name": "ns"}, "transform": [{"filter": "datum.p == 'teM'"}],
       "mark": {"type": "text", "align": "left", "baseline": "middle", "dx": 4, "dy": 2, "fontSize": 8.5, "font": "Liberation Sans", "color": "#333333"},
       "encoding": {"text": {"field": "n"}}}
    ]
  }
]
}
